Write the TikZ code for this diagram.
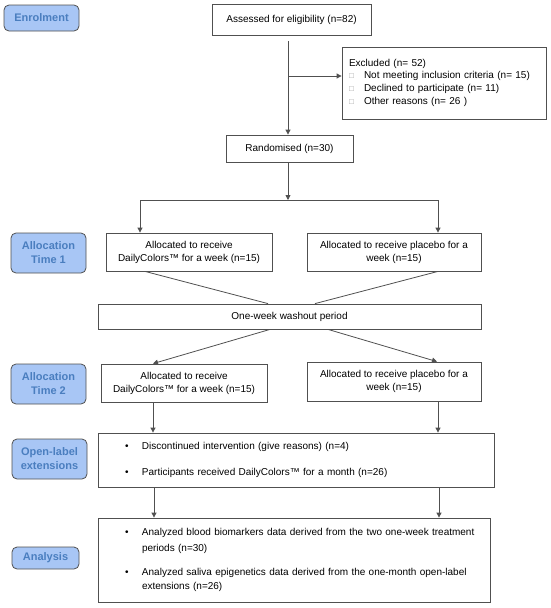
\documentclass[tikz,border=0pt]{standalone}
\usepackage{fontspec}
\setmainfont{Liberation Sans}
\usetikzlibrary{arrows.meta}
\definecolor{lblfill}{HTML}{A8C6F5}
\definecolor{lbltext}{HTML}{4A7EBF}
\definecolor{lineC}{HTML}{505050}
\definecolor{chk}{HTML}{9A9A9A}
\newcommand{\chkbox}{\makebox[15pt][l]{\color{chk}\footnotesize □}}
\newcommand{\bul}{\hspace*{22pt}\makebox[17pt][l]{•}}
\newcommand{\contl}{\hspace*{39pt}}
\begin{document}
\begin{tikzpicture}[x=1pt,y=-1pt,
  font=\fontsize{10}{13}\selectfont,
  box/.style={draw=lineC, line width=0.8pt, rectangle, inner sep=0pt, align=center},
  lbl/.style={draw=lineC, line width=0.8pt, fill=lblfill, rounded corners=5pt,
     inner sep=0pt, align=center, text=lbltext,
     font=\fontsize{11}{14}\selectfont\bfseries},
  arr/.style={draw=lineC, line width=0.8pt, -{Triangle[width=5pt,length=5pt]}},
  ln/.style={draw=lineC, line width=0.8pt}]
\useasboundingbox (0,0) rectangle (550,608);

% stage labels
\node[lbl, minimum width=75pt, minimum height=26pt] (lenr) at (41.5,18) {Enrolment};
\node[lbl, minimum width=75pt, minimum height=40pt] (lat1) at (48.5,253) {Allocation\\Time 1};
\node[lbl, minimum width=75pt, minimum height=40pt] (lat2) at (48.5,384) {Allocation\\Time 2};
\node[lbl, minimum width=75pt, minimum height=40pt] (lole) at (49.5,459) {Open-label\\extensions};
\node[lbl, minimum width=67pt, minimum height=22pt] (lana) at (45.5,558) {Analysis};

% boxes
\node[box, minimum width=159pt, minimum height=31pt] (assess) at (291.5,19.5) {Assessed for eligibility (n=82)};
\node[box, minimum width=204pt, minimum height=72pt, text width=190pt, align=left] (excl) at (444,83)
  {Excluded (n= 52)\\[-1pt]
   \chkbox Not meeting inclusion criteria (n= 15)\\
   \chkbox Declined to participate (n= 11)\\
   \chkbox Other reasons (n= 26 )};
\node[box, minimum width=127pt, minimum height=27pt] (rand) at (289.5,148.5) {Randomised (n=30)};
\node[box, minimum width=166pt, minimum height=38pt] (a1L) at (189,252) {Allocated to receive\\DailyColors™ for a week (n=15)};
\node[box, minimum width=174pt, minimum height=38pt] (a1R) at (394,252) {Allocated to receive placebo for a\\week (n=15)};
\node[box, minimum width=383pt, minimum height=25pt] (wash) at (289.5,316.5) {One-week washout period};
\node[box, minimum width=166pt, minimum height=38pt] (a2L) at (184,383) {Allocated to receive\\DailyColors™ for a week (n=15)};
\node[box, minimum width=174pt, minimum height=39pt] (a2R) at (394,381.5) {Allocated to receive placebo for a\\week (n=15)};
\node[box, minimum width=396pt, minimum height=54pt, text width=386pt, align=left] (open) at (296,460)
  {\bul Discontinued intervention (give reasons) (n=4)\\[13pt]
   \bul Participants received DailyColors™ for a month (n=26)};
\node[box, minimum width=392pt, minimum height=84pt, text width=382pt, align=left] (anal) at (294,560)
  {\bul Analyzed blood biomarkers data derived from the two one-week treatment\\[3pt]
   \contl periods (n=30)\\[11pt]
   \bul Analyzed saliva epigenetics data derived from the one-month open-label\\[1pt]
   \contl extensions (n=26)};

% helper coordinates
\coordinate (vx) at (288,0);
\coordinate (br) at (288,76);
\coordinate (split) at (288,200);
\coordinate (sL) at (140,200);
\coordinate (sR) at (438,200);
\coordinate (cLx) at (145,0);
\coordinate (cLe) at (268,0);
\coordinate (cRx) at (438,0);
\coordinate (cRe) at (315,0);
\coordinate (wLx) at (270,0);
\coordinate (wLe) at (153,0);
\coordinate (wRx) at (328,0);
\coordinate (wRe) at (437,0);
\coordinate (oLx) at (153,0);
\coordinate (oRx) at (438,0);
\coordinate (pLx) at (154,0);
\coordinate (pRx) at (439,0);

% connectors
\draw[arr, shorten <=6pt] (assess.south -| vx) -- (rand.north -| vx);
\draw[arr] (br) -- (br -| excl.west);
\draw[arr] (rand.south -| vx) -- (split);
\draw[ln] (sL) -- (sR);
\draw[arr] (sL) -- (sL |- a1L.north);
\draw[arr] (sR) -- (sR |- a1R.north);
\draw[ln] (a1L.south -| cLx) -- (wash.north -| cLe);
\draw[ln] (a1R.south -| cRx) -- (wash.north -| cRe);
\draw[arr] (wash.south -| wLx) -- (a2L.north -| wLe);
\draw[arr] (wash.south -| wRx) -- (a2R.north -| wRe);
\draw[arr] (a2L.south -| oLx) -- (open.north -| oLx);
\draw[arr] (a2R.south -| oRx) -- (open.north -| oRx);
\draw[arr] (open.south -| pLx) -- (anal.north -| pLx);
\draw[arr] (open.south -| pRx) -- (anal.north -| pRx);
\end{tikzpicture}
\end{document}
